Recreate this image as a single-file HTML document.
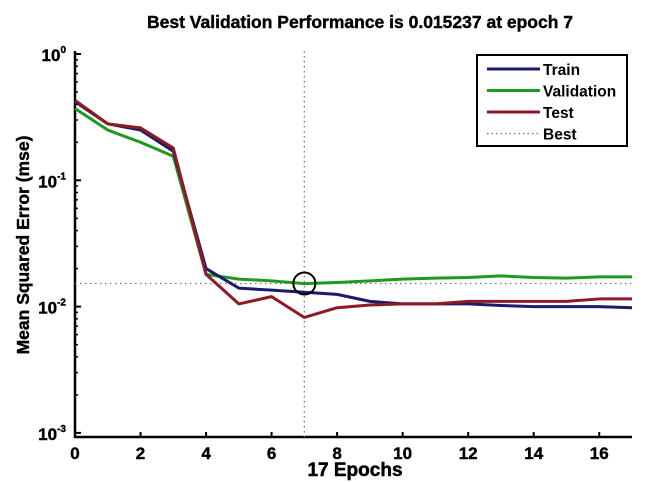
<!DOCTYPE html>
<html><head><meta charset="utf-8"><style>
body{margin:0;background:#fff;}
svg{display:block;font-family:"Liberation Sans",Arial,sans-serif;font-weight:bold;}
</style></head><body>
<svg id="chart" width="650" height="482" viewBox="0 0 650 482"></svg>
<script>
const epochs=[0,1,2,3,4,5,6,7,8,9,10,11,12,13,14,15,16,17];
const trainVals=[0.42,0.28,0.25,0.17,0.020,0.014,0.0135,0.013,0.0125,0.011,0.0105,0.0105,0.0105,0.0102,0.0100,0.0100,0.0100,0.0098];
const valVals=[0.37,0.25,0.20,0.155,0.018,0.0165,0.016,0.0152,0.0155,0.016,0.0165,0.0168,0.017,0.0175,0.017,0.0168,0.0172,0.0172];
const testVals=[0.43,0.28,0.26,0.18,0.018,0.0105,0.012,0.0082,0.0098,0.0103,0.0105,0.0105,0.011,0.011,0.011,0.011,0.0115,0.0115];
const xTicks=[0,2,4,6,8,10,12,14,16];
const yTickExps=[0,-1,-2,-3];
const bestEpoch=7, bestVal=0.015237;

const NS="http://www.w3.org/2000/svg";
const svg=document.getElementById('chart');
const X0=75,X1=632,XMAX=17,YTOP=54,DEC=126.3,YBOT=437;
const xs=v=>X0+(X1-X0)*v/XMAX;
const ys=v=>YTOP-DEC*Math.log10(v);
function mk(tag,attrs,parent){const e=document.createElementNS(NS,tag);for(const k in attrs)e.setAttribute(k,attrs[k]);(parent||svg).appendChild(e);return e;}

let t=mk('text',{x:360,y:28,'text-anchor':'middle','font-size':17.5,'stroke':'#000','stroke-width':0.4});
t.textContent='Best Validation Performance is 0.015237 at epoch 7';



let ax=mk('path',{d:`M${X0} ${YTOP-3} V${YBOT} H${X1}`,stroke:'#000','stroke-width':2.5,fill:'none'});


xTicks.forEach(v=>{
  mk('line',{x1:xs(v),x2:xs(v),y1:YBOT,y2:YBOT-5,stroke:'#000','stroke-width':2});
  const l=mk('text',{x:xs(v),y:YBOT+22,'text-anchor':'middle','font-size':17,'stroke':'#000','stroke-width':0.4});
  l.textContent=v;
  
  
});
yTickExps.forEach(e=>{
  const y=ys(Math.pow(10,e));
  mk('line',{x1:X0,x2:X0+6,y1:y,y2:y,stroke:'#000','stroke-width':2});
  const l=mk('text',{x:X0-9,y:y+7,'text-anchor':'end','font-size':17,'stroke':'#000','stroke-width':0.4});
  l.innerHTML='10<tspan dy="-8" font-size="10">'+e+'</tspan>';
  
  
  if(e>-3){for(let m=2;m<10;m++){const yy=ys(m*Math.pow(10,e-1));mk('line',{x1:X0,x2:X0+3,y1:yy,y2:yy,stroke:'#000','stroke-width':1.5});}}
});
t=mk('text',{x:355,y:476,'text-anchor':'middle','font-size':19,'stroke':'#000','stroke-width':0.5});
t.textContent='17 Epochs';


t=mk('text',{x:0,y:0,'text-anchor':'middle','font-size':17.5,'stroke':'#000','stroke-width':0.4,transform:'translate(29,245) rotate(-90)'});
t.textContent='Mean Squared Error  (mse)';



let b=mk('line',{x1:X0,x2:X1,y1:ys(bestVal),y2:ys(bestVal),stroke:'#777','stroke-width':1.3,'stroke-dasharray':'1.5 3.5'});


b=mk('line',{x1:xs(bestEpoch),x2:xs(bestEpoch),y1:YTOP-3,y2:YBOT,stroke:'#777','stroke-width':1.3,'stroke-dasharray':'1.5 3.5'});



function series(vals,color,name){
  const p=mk('polyline',{points:vals.map((v,i)=>xs(epochs[i])+','+ys(v)).join(' '),fill:'none',stroke:color,'stroke-width':3,'stroke-linejoin':'round'});
  
  
}
series(valVals,'#1e9a1e','validation-line');
series(trainVals,'#1a1a6e','train-line');
series(testVals,'#8e1a24','test-line');

let c=mk('circle',{cx:xs(bestEpoch),cy:ys(bestVal),r:11,fill:'none',stroke:'#000','stroke-width':2});



const lg=mk('g',{});


mk('rect',{x:477,y:55,width:150,height:91,fill:'#fff',stroke:'#000','stroke-width':2},lg);
const items=[['Train','#1a1a6e',''],['Validation','#1e9a1e',''],['Test','#8e1a24',''],['Best','#777','1.5 3']];
items.forEach((it,i)=>{
  const y=69+i*21.5;
  const g=mk('g',{},lg);
  
  
  mk('line',{x1:487,x2:540,y1:y,y2:y,stroke:it[1],'stroke-width':it[2]?1.3:3,'stroke-dasharray':it[2]},g);
  const tx=mk('text',{x:543,y:y+6,'font-size':15.5},g);
  tx.textContent=it[0];
});
</script>
</body></html>
